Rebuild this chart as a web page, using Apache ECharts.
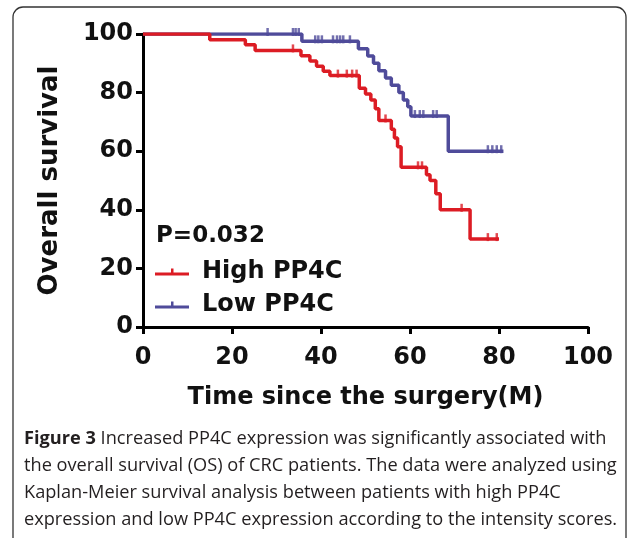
<!DOCTYPE html>
<html>
<head>
<meta charset="utf-8">
<script src="https://cdn.jsdelivr.net/npm/echarts@6/dist/echarts.min.js"></script>
<style>
  html, body { margin: 0; padding: 0; background: #fff; }
  #chart { width: 637px; height: 538px; }
</style>
</head>
<body>
<div id="chart"></div>
<script>
// Kaplan-Meier steps (time in months, survival in %)
const highTime = [0, 15, 23, 25.2, 35.5, 37.5, 39, 40.5, 42, 48.6, 50, 51.2, 52.2, 53, 55.8, 56.5, 57.2, 58, 63.7, 64.5, 65.8, 66.8, 73.5, 80];
const highSurv = [100, 98, 96.3, 94.4, 92.6, 90.8, 89, 87.3, 85.8, 81.5, 79.5, 77.5, 74.5, 70.5, 67.5, 64.5, 61.5, 54.5, 52, 50, 45.5, 40, 30, 30];
const lowTime = [0, 35.7, 48.4, 50.5, 51.8, 53, 54.5, 55.8, 57.5, 58.5, 59.5, 60.2, 68.6, 81];
const lowSurv = [100, 97.5, 95, 92.5, 90, 87.5, 85, 82.5, 80, 77.5, 75.2, 72, 60, 60];

// censored patients (tick marks)
const highCensorTime = [33.7, 43.8, 45.8, 47, 48, 54.5, 61.8, 62.7, 71.6, 77.5, 79.5];
const highCensorSurv = [94.4, 85.8, 85.8, 85.8, 85.8, 70.5, 54.5, 54.5, 40, 30, 30];
const lowCensorTime = [28, 33.7, 34.3, 35, 38.7, 39.4, 40.2, 42.7, 43.6, 44.3, 45, 46.5, 61.1, 62.2, 63, 65.2, 66, 77.5, 78.5, 79.5, 80.5];
const lowCensorSurv = [100, 100, 100, 100, 97.5, 97.5, 97.5, 97.5, 97.5, 97.5, 97.5, 97.5, 72, 72, 72, 72, 72, 60, 60, 60, 60];

const groupNames = ["High PP4C", "Low PP4C"];
const pValueText = "P=0.032";
const xTicks = [0, 20, 40, 60, 80, 100];
const yTicks = [0, 20, 40, 60, 80, 100];

const captionLines = [
  "{b|Figure 3} Increased PP4C expression was significantly associated with",
  "the overall survival (OS) of CRC patients. The data were analyzed using",
  "Kaplan-Meier survival analysis between patients with high PP4C",
  "expression and low PP4C expression according to the intensity scores.",
];

const RED = "#dc1c24";
const BLUE = "#4f4b9a";
const AXIS_FONT = "DejaVu Sans";

function zip(a, b) {
  return a.map((v, i) => [v, b[i]]);
}

const chart = echarts.init(document.getElementById("chart"));

const captionGraphics = captionLines.map((line, i) => ({
  type: "text",
  left: 24,
  top: 430 + i * 27,
  style: {
    text: line,
    font: "18.2px 'Open Sans'",
    fill: "#231f20",
    rich: {
      b: { fontWeight: "bold", fontSize: 18.2, fontFamily: "Open Sans", fill: "#231f20" },
    },
  },
}));

const option = {
  animation: false,
  grid: { left: 143, right: 49, top: 34, bottom: 211 },
  legend: {
    data: groupNames,
    orient: "vertical",
    left: 150,
    top: 255,
    itemWidth: 34,
    itemHeight: 10,
    itemGap: 9,
    icon: "path://M0,4h34v3h-34z M16,0h2.5v5h-2.5z",
    textStyle: {
      fontFamily: AXIS_FONT,
      fontWeight: "bold",
      fontSize: 24,
      color: "#111",
      padding: [0, 0, 0, 8],
    },
  },
  xAxis: {
    type: "value",
    min: xTicks[0],
    max: xTicks[xTicks.length - 1],
    interval: 20,
    name: "Time since the surgery(M)",
    nameLocation: "middle",
    nameGap: 59,
    nameTextStyle: { fontFamily: AXIS_FONT, fontWeight: "bold", fontSize: 24, color: "#111" },
    axisLine: { lineStyle: { color: "#000", width: 3 } },
    axisTick: { length: 7, lineStyle: { color: "#000", width: 3 } },
    axisLabel: { fontFamily: AXIS_FONT, fontWeight: "bold", fontSize: 24, color: "#111", margin: 19 },
    splitLine: { show: false },
  },
  yAxis: {
    type: "value",
    min: yTicks[0],
    max: yTicks[yTicks.length - 1],
    interval: 20,
    name: "Overall survival",
    nameLocation: "middle",
    nameGap: 80,
    nameTextStyle: { fontFamily: AXIS_FONT, fontWeight: "bold", fontSize: 26, color: "#111" },
    axisLine: { lineStyle: { color: "#000", width: 3 } },
    axisTick: { length: 7, lineStyle: { color: "#000", width: 3 } },
    axisLabel: { fontFamily: AXIS_FONT, fontWeight: "bold", fontSize: 24, color: "#111", margin: 10 },
    splitLine: { show: false },
  },
  series: [
    {
      name: groupNames[0],
      type: "line",
      step: "end",
      symbol: "none",
      z: 3,
      lineStyle: { color: RED, width: 3.5 },
      itemStyle: { color: RED },
      data: zip(highTime, highSurv),
    },
    {
      name: groupNames[1],
      type: "line",
      step: "end",
      symbol: "none",
      z: 2,
      lineStyle: { color: BLUE, width: 3.5 },
      itemStyle: { color: BLUE },
      data: zip(lowTime, lowSurv),
    },
    {
      name: "High censored",
      type: "scatter",
      symbol: "rect",
      symbolSize: [2.5, 8],
      symbolOffset: [0, -2],
      z: 4,
      itemStyle: { color: RED },
      data: zip(highCensorTime, highCensorSurv),
    },
    {
      name: "Low censored",
      type: "scatter",
      symbol: "rect",
      symbolSize: [2.5, 8],
      symbolOffset: [0, -2],
      z: 4,
      itemStyle: { color: BLUE },
      data: zip(lowCensorTime, lowCensorSurv),
    },
  ],
  graphic: [
    {
      type: "rect",
      shape: { x: 13, y: 7, width: 613, height: 545, r: 10 },
      style: { fill: "none", stroke: "#333", lineWidth: 1.3 },
      silent: true,
    },
    {
      type: "text",
      left: 156,
      top: 225,
      style: {
        text: pValueText,
        font: "bold 23px 'DejaVu Sans'",
        fill: "#111",
      },
    },
  ].concat(captionGraphics),
};

chart.setOption(option);
</script>
</body>
</html>
